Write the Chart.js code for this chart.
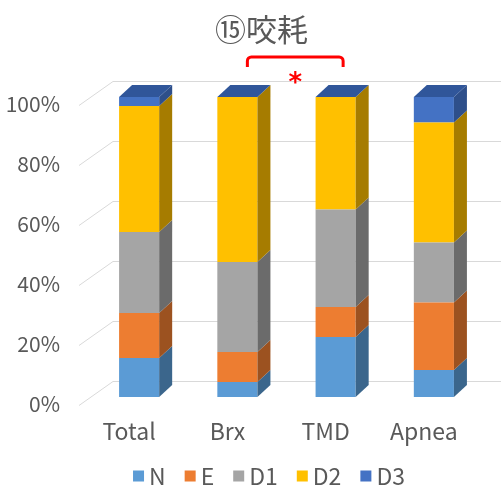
<!DOCTYPE html>
<html>
<head>
<meta charset="utf-8">
<script src="https://cdn.jsdelivr.net/npm/chart.js@4.4.1/dist/chart.umd.min.js"></script>
<style>
  html, body { margin: 0; padding: 0; background: #fff; }
  #wrap { width: 503px; height: 489px; }
</style>
</head>
<body>
<div id="wrap"><canvas id="Chart"></canvas></div>
<script>
const categories = ['Total', 'Brx', 'TMD', 'Apnea'];
const seriesNames = ['N', 'E', 'D1', 'D2', 'D3'];
const valN  = [13, 5, 20, 9];
const valE  = [15, 10, 10, 22.5];
const valD1 = [27, 30, 32.5, 20];
const valD2 = [42, 55, 37.5, 40];
const valD3 = [3, 0, 0, 8.5];
const yTicks = [0, 20, 40, 60, 80, 100];
const chartTitle = '⑮咬耗';

const seriesData = [valN, valE, valD1, valD2, valD3];
const frontColors = ['#5B9BD5', '#ED7D31', '#A5A5A5', '#FFC000', '#4472C4'];
const sideColors  = ['#3B668C', '#9C5220', '#6B6B6B', '#A67C00', '#2E4F8A'];
const capColor = '#30569A';
const textColor = '#595959';
const fontFamily = '"Noto Sans CJK JP", "Noto Sans", sans-serif';

// bar depth offsets (right / up)
const dx = 13, dy = 12;

const depth3d = {
  id: 'depth3d',
  beforeDatasetsDraw(chart) {
    // back wall grid + left wall diagonals
    const { ctx, chartArea, scales: { y } } = chart;
    ctx.save();
    ctx.strokeStyle = '#D9D9D9';
    ctx.lineWidth = 1;
    yTicks.forEach(v => {
      const yb = Math.round(y.getPixelForValue(v) - 16.5) + 0.5;
      ctx.beginPath();
      ctx.moveTo(chartArea.left - 11, yb + 24);
      ctx.lineTo(chartArea.left + 23, yb);
      ctx.lineTo(chartArea.right + 18, yb);
      ctx.stroke();
    });
    ctx.restore();
  },
  afterDatasetsDraw(chart) {
    const { ctx } = chart;
    ctx.save();
    chart.data.datasets.forEach((ds, i) => {
      chart.getDatasetMeta(i).data.forEach(bar => {
        const { x, y, base, width } = bar.getProps(['x', 'y', 'base', 'width'], true);
        if (Math.abs(base - y) < 0.5) return;
        const r = x + width / 2;
        ctx.fillStyle = sideColors[i];
        ctx.beginPath();
        ctx.moveTo(r, y);
        ctx.lineTo(r + dx, y - dy);
        ctx.lineTo(r + dx, base - dy);
        ctx.lineTo(r, base);
        ctx.closePath();
        ctx.fill();
      });
    });
    // top caps
    const last = chart.getDatasetMeta(chart.data.datasets.length - 1);
    last.data.forEach(bar => {
      const { x, y, width } = bar.getProps(['x', 'y', 'width'], true);
      const l = x - width / 2, r = x + width / 2;
      ctx.fillStyle = capColor;
      ctx.beginPath();
      ctx.moveTo(l, y);
      ctx.lineTo(l + dx, y - dy);
      ctx.lineTo(r + dx, y - dy);
      ctx.lineTo(r, y);
      ctx.closePath();
      ctx.fill();
    });
    ctx.restore();
  },
  afterDraw(chart) {
    const { ctx, width, scales: { x, y } } = chart;
    const midX = width / 2 + 14;
    ctx.save();

    // title
    ctx.fillStyle = textColor;
    ctx.font = '31px ' + fontFamily;
    ctx.textAlign = 'center';
    ctx.textBaseline = 'middle';
    ctx.fillText(chartTitle, midX - 4, 29);

    // significance bracket Brx - TMD
    const x1 = x.getPixelForValue(1) + 10;
    const x2 = x.getPixelForValue(2) + 7.5;
    const top = y.getPixelForValue(100) - 40;
    ctx.strokeStyle = '#FF0000';
    ctx.lineWidth = 3;
    ctx.lineJoin = 'round';
    ctx.beginPath();
    ctx.moveTo(x1, top + 10);
    ctx.arcTo(x1, top, x1 + 5, top, 4);
    ctx.arcTo(x2, top, x2, top + 5, 4);
    ctx.lineTo(x2, top + 10);
    ctx.stroke();
    ctx.fillStyle = '#FF0000';
    ctx.font = 'bold 26px "DejaVu Sans"';
    ctx.textBaseline = 'alphabetic';
    ctx.fillText('*', (x1 + x2) / 2, top + 34);

    // legend
    ctx.font = '23px ' + fontFamily;
    ctx.textAlign = 'left';
    ctx.textBaseline = 'middle';
    const box = 11, gapText = 5, gapItem = 19;
    const widths = seriesNames.map(n => box + gapText + ctx.measureText(n).width);
    const total = widths.reduce((a, b) => a + b, 0) + gapItem * (widths.length - 1);
    let cx = midX + 3.5 - total / 2;
    const ly = 476;
    seriesNames.forEach((n, i) => {
      ctx.fillStyle = frontColors[i];
      ctx.fillRect(cx, ly - box / 2, box, box);
      ctx.fillStyle = textColor;
      ctx.fillText(n, cx + box + gapText, ly);
      cx += widths[i] + gapItem;
    });
    ctx.restore();
  }
};

const ctx = document.getElementById('Chart').getContext('2d');
const chart = new Chart(ctx, {
  type: 'bar',
  data: {
    labels: categories,
    datasets: seriesNames.map((name, i) => ({
      label: name,
      data: seriesData[i],
      backgroundColor: frontColors[i],
      borderWidth: 0,
      barPercentage: 0.816,
      categoryPercentage: 0.5
    }))
  },
  options: {
    responsive: true,
    maintainAspectRatio: false,
    animation: false,
    layout: { padding: { left: 0, right: 20, top: 97, bottom: 42 } },
    plugins: {
      title: { display: false },
      legend: { display: false },
      tooltip: { enabled: false }
    },
    scales: {
      x: {
        stacked: true,
        afterFit: scale => { scale.height = 50; },
        grid: { display: false, drawTicks: false },
        border: { display: false },
        ticks: { color: textColor, font: { family: fontFamily, size: 23 }, padding: 20, labelOffset: -10 }
      },
      y: {
        stacked: true,
        min: 0,
        max: 100,
        afterFit: scale => { scale.width = 90; },
        afterBuildTicks: axis => { axis.ticks = yTicks.map(v => ({ value: v })); },
        grid: { display: false, drawTicks: false },
        border: { display: false },
        ticks: {
          color: textColor,
          font: { family: fontFamily, size: 21 },
          padding: 30,
          labelOffset: 7,
          callback: v => v + '%'
        }
      }
    }
  },
  plugins: [depth3d]
});
</script>
</body>
</html>
